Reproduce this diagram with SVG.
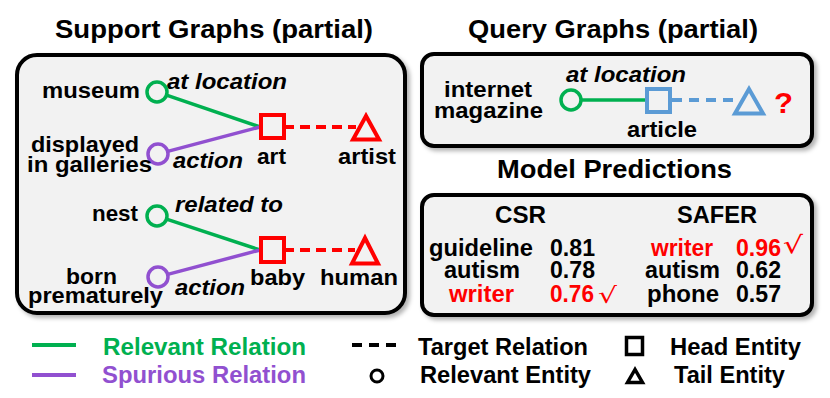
<svg xmlns="http://www.w3.org/2000/svg" width="830" height="398" viewBox="0 0 830 398">
<defs>
<filter id="sh" x="-5%" y="-5%" width="112%" height="115%">
<feDropShadow dx="3" dy="3" stdDeviation="2" flood-color="#000" flood-opacity="0.3"/>
</filter>
<style>
text{font-family:"Liberation Sans",Arial,sans-serif;font-weight:bold;fill:#000}
.t{font-size:25px}
.n{font-size:22px}
.r{font-size:22px;font-style:italic}
.p{font-size:23px}
.lg{font-size:23px}
.red{fill:#FF0000}
.box{fill:#F2F2F2;stroke:#000;stroke-width:4}
.gc{fill:none;stroke:#00B050;stroke-width:3.5}
.pc{fill:none;stroke:#9150D0;stroke-width:3.5}
.rs{fill:none;stroke:#FF0000;stroke-width:4}
.bs{fill:none;stroke:#5B9BD5;stroke-width:4}
.gl{stroke:#00B050;stroke-width:3.5;fill:none}
.pl{stroke:#9150D0;stroke-width:3.5;fill:none}
.rd{stroke:#FF0000;stroke-width:4;stroke-dasharray:10 6;fill:none}
.bd{stroke:#5B9BD5;stroke-width:4;stroke-dasharray:10 7;fill:none}
</style>
</defs>
<rect width="830" height="398" fill="#fff"/>

<g id="titles">
<text class="t" x="55" y="38" textLength="318" lengthAdjust="spacingAndGlyphs">Support Graphs (partial)</text>
<text class="t" x="468" y="38" textLength="290" lengthAdjust="spacingAndGlyphs">Query Graphs (partial)</text>
<text class="t" x="497" y="178" textLength="235" lengthAdjust="spacingAndGlyphs">Model Predictions</text>
</g>

<g id="panels">
<rect class="box" x="17" y="55" width="388" height="258" rx="20" filter="url(#sh)"/>
<rect class="box" x="422" y="54" width="390" height="92" rx="12" filter="url(#sh)"/>
<rect class="box" x="422" y="195" width="390" height="120" rx="12" filter="url(#sh)"/>
</g>

<g id="connectors">
<line class="gl" x1="166.5" y1="95.2" x2="260" y2="127"/>
<line class="pl" x1="167.7" y1="151.4" x2="260" y2="127"/>
<line class="rd" x1="284" y1="127" x2="356" y2="127"/>
<line class="gl" x1="166.5" y1="219.1" x2="260" y2="250"/>
<line class="pl" x1="167.7" y1="274.4" x2="260" y2="250"/>
<line class="rd" x1="284" y1="250" x2="355" y2="250"/>
<line class="gl" x1="581" y1="100" x2="647" y2="100"/>
<line class="bd" x1="672" y1="100" x2="739" y2="100"/>
<text class="r" x="167" y="89" textLength="120" lengthAdjust="spacingAndGlyphs">at location</text>
<text class="r" x="173" y="168" textLength="70" lengthAdjust="spacingAndGlyphs">action</text>
<text class="r" x="175" y="212" textLength="108" lengthAdjust="spacingAndGlyphs">related to</text>
<text class="r" x="175" y="295" textLength="70" lengthAdjust="spacingAndGlyphs">action</text>
<text class="r" x="566" y="82" textLength="120" lengthAdjust="spacingAndGlyphs">at location</text>
</g>

<g id="node-museum">
<circle class="gc" cx="157" cy="92" r="10"/>
<text class="n" x="42" y="98" textLength="98" lengthAdjust="spacingAndGlyphs">museum</text>
</g>
<g id="node-displayed">
<circle class="pc" cx="158" cy="154" r="10"/>
<text class="n" x="31" y="152" textLength="108" lengthAdjust="spacingAndGlyphs">displayed</text>
<text class="n" x="27" y="172" textLength="125" lengthAdjust="spacingAndGlyphs">in galleries</text>
</g>
<g id="node-art">
<rect class="rs" x="261" y="115" width="23" height="23"/>
<text class="n" x="257" y="164" textLength="29" lengthAdjust="spacingAndGlyphs">art</text>
</g>
<g id="node-artist">
<polygon class="rs" points="366,116 353,139.5 379,139.5" stroke-width="4.5"/>
<text class="n" x="338" y="164" textLength="58" lengthAdjust="spacingAndGlyphs">artist</text>
</g>
<g id="node-nest">
<circle class="gc" cx="157" cy="216" r="10"/>
<text class="n" x="92" y="221" textLength="46" lengthAdjust="spacingAndGlyphs">nest</text>
</g>
<g id="node-born">
<circle class="pc" cx="158" cy="277" r="10"/>
<text class="n" x="66" y="284" textLength="51" lengthAdjust="spacingAndGlyphs">born</text>
<text class="n" x="28" y="303" textLength="135" lengthAdjust="spacingAndGlyphs">prematurely</text>
</g>
<g id="node-baby">
<rect class="rs" x="261" y="238" width="23" height="24"/>
<text class="n" x="250" y="285" textLength="55" lengthAdjust="spacingAndGlyphs">baby</text>
</g>
<g id="node-human">
<polygon class="rs" points="365,238 352,263.5 378,263.5" stroke-width="4.5"/>
<text class="n" x="320" y="285" textLength="78" lengthAdjust="spacingAndGlyphs">human</text>
</g>

<g id="node-internet-magazine">
<circle class="gc" cx="571" cy="100" r="10"/>
<text class="n" x="444" y="97" textLength="88" lengthAdjust="spacingAndGlyphs">internet</text>
<text class="n" x="434" y="118" textLength="109" lengthAdjust="spacingAndGlyphs">magazine</text>
</g>
<g id="node-article">
<rect class="bs" x="647" y="89" width="23" height="23"/>
<text class="n" x="627" y="137" textLength="70" lengthAdjust="spacingAndGlyphs">article</text>
</g>
<g id="node-tail-query">
<polygon class="bs" points="749,89 735,113.5 763,113.5" stroke-width="4.5"/>
<text class="red" x="774" y="113" font-size="30" textLength="19" lengthAdjust="spacingAndGlyphs">?</text>
</g>

<g id="predictions">
<text class="p" x="495" y="223" textLength="51" lengthAdjust="spacingAndGlyphs">CSR</text>
<text class="p" x="677" y="223" textLength="80" lengthAdjust="spacingAndGlyphs">SAFER</text>
<text class="p" x="429" y="256" textLength="104" lengthAdjust="spacingAndGlyphs">guideline</text>
<text class="p" x="550" y="256" textLength="45" lengthAdjust="spacingAndGlyphs">0.81</text>
<text class="p" x="444" y="278" textLength="76" lengthAdjust="spacingAndGlyphs">autism</text>
<text class="p" x="550" y="278" textLength="45" lengthAdjust="spacingAndGlyphs">0.78</text>
<text class="p red" x="449" y="302" textLength="65" lengthAdjust="spacingAndGlyphs">writer</text>
<text class="p red" x="550" y="302" textLength="44" lengthAdjust="spacingAndGlyphs">0.76</text>
<text class="red" x="598" y="303" font-size="22" style="font-family:'DejaVu Sans',sans-serif;font-weight:normal" textLength="19" lengthAdjust="spacingAndGlyphs">√</text>
<text class="p red" x="651" y="256" textLength="62" lengthAdjust="spacingAndGlyphs">writer</text>
<text class="p red" x="736" y="256" textLength="45" lengthAdjust="spacingAndGlyphs">0.96</text>
<text class="red" x="783" y="253" font-size="24" style="font-family:'DejaVu Sans',sans-serif;font-weight:normal" textLength="20" lengthAdjust="spacingAndGlyphs">√</text>
<text class="p" x="645" y="278" textLength="75" lengthAdjust="spacingAndGlyphs">autism</text>
<text class="p" x="736" y="278" textLength="45" lengthAdjust="spacingAndGlyphs">0.62</text>
<text class="p" x="647" y="302" textLength="72" lengthAdjust="spacingAndGlyphs">phone</text>
<text class="p" x="736" y="302" textLength="45" lengthAdjust="spacingAndGlyphs">0.57</text>
</g>

<g id="legend">
<line x1="32" y1="345" x2="76" y2="345" stroke="#00B050" stroke-width="4"/>
<text class="lg" x="103" y="355" style="fill:#00B050" textLength="203" lengthAdjust="spacingAndGlyphs">Relevant Relation</text>
<line x1="32" y1="375" x2="76" y2="375" stroke="#9150D0" stroke-width="4"/>
<text class="lg" x="102" y="383" style="fill:#9150D0" textLength="204" lengthAdjust="spacingAndGlyphs">Spurious Relation</text>
<line x1="352" y1="345" x2="396" y2="345" stroke="#000" stroke-width="4" stroke-dasharray="10 7"/>
<text class="lg" x="418" y="355" textLength="170" lengthAdjust="spacingAndGlyphs">Target Relation</text>
<circle cx="377" cy="376" r="6" fill="none" stroke="#000" stroke-width="3"/>
<text class="lg" x="420" y="383" textLength="171" lengthAdjust="spacingAndGlyphs">Relevant Entity</text>
<rect x="626.5" y="337.5" width="16" height="17" fill="none" stroke="#000" stroke-width="3.5"/>
<text class="lg" x="670" y="355" textLength="131" lengthAdjust="spacingAndGlyphs">Head Entity</text>
<polygon points="635,369.5 627.5,382.5 642.5,382.5" fill="none" stroke="#000" stroke-width="3.5"/>
<text class="lg" x="674" y="383" textLength="111" lengthAdjust="spacingAndGlyphs">Tail Entity</text>
</g>
</svg>
